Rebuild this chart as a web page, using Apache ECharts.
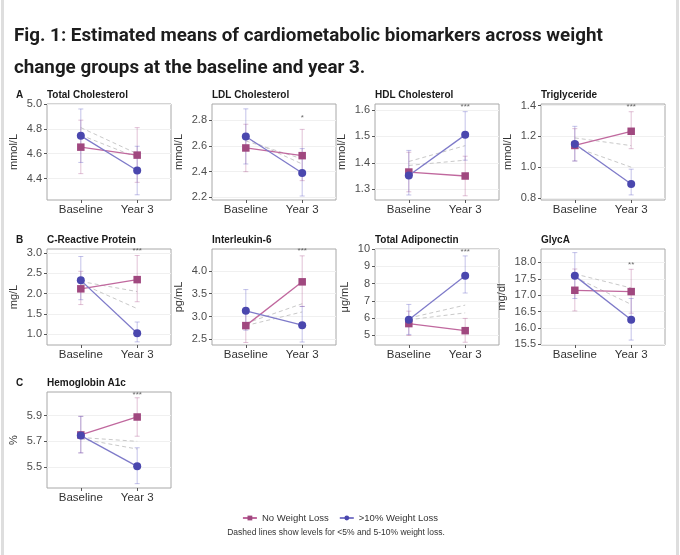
<!DOCTYPE html>
<html>
<head>
<meta charset="utf-8">
<title>Fig. 1</title>
<script src="https://cdn.jsdelivr.net/npm/echarts@6/dist/echarts.min.js"></script>
<style>
    html, body { margin: 0; padding: 0; background: #fff; }
    #chart { position: absolute; left: 0; top: 0; width: 680px; height: 555px; }
    .edge { position: absolute; top: 0; width: 3px; height: 555px; background: #dedede; pointer-events: none; }
</style>
</head>
<body>
<div id="chart"></div>
<div class="edge" style="left:1px"></div>
<div class="edge" style="left:676px"></div>
<script>
// ---- data ----
var groups = ['No Weight Loss', '>10% Weight Loss'];
var timepoints = ['Baseline', 'Year 3'];

var panelTitles = ['Total Cholesterol', 'LDL Cholesterol', 'HDL Cholesterol', 'Triglyceride',
    'C-Reactive Protein', 'Interleukin-6', 'Total Adiponectin', 'GlycA', 'Hemoglobin A1c'];
var panelUnits = ['mmol/L', 'mmol/L', 'mmol/L', 'mmol/L', 'mg/L', 'pg/mL', 'μg/mL', 'mg/dl', '%'];
var panelLetters = ['A', '', '', '', 'B', '', '', '', 'C'];

// estimated means [baseline, year 3]
var noLossMeans = [[4.653, 4.589], [2.585, 2.525], [1.365, 1.350], [1.141, 1.233],
    [2.118, 2.345], [2.80, 3.76], [5.68, 5.27], [17.15, 17.11], [5.750, 5.890]];
var lossMeans = [[4.744, 4.465], [2.675, 2.390], [1.352, 1.506], [1.150, 0.891],
    [2.327, 1.025], [3.125, 2.81], [5.90, 8.45], [17.59, 16.25], [5.745, 5.505]];

// confidence limits [baseline, year 3]
var noLossLower = [[4.44, 4.37], [2.40, 2.33], [1.290, 1.275], [1.04, 1.12],
    [1.73, 1.80], [2.43, 3.22], [4.99, 4.60], [16.52, 16.45], [5.61, 5.74]];
var noLossUpper = [[4.87, 4.81], [2.77, 2.73], [1.440, 1.425], [1.25, 1.36],
    [2.55, 2.94], [3.17, 4.33], [6.40, 5.98], [17.80, 17.79], [5.895, 6.04]];
var lossLower = [[4.53, 4.27], [2.46, 2.21], [1.278, 1.410], [1.04, 0.82],
    [1.85, 0.81], [2.70, 2.44], [5.05, 7.45], [16.90, 15.63], [5.61, 5.37]];
var lossUpper = [[4.96, 4.66], [2.89, 2.58], [1.447, 1.594], [1.265, 0.987],
    [2.915, 1.30], [3.59, 3.22], [6.79, 9.60], [18.30, 16.90], [5.895, 5.65]];

// dashed reference levels [baseline, year 3]
var less5Means = [[4.81, 4.60], [2.66, 2.46], [1.405, 1.465], [1.19, 1.14],
    [2.30, 2.05], [2.85, 3.28], [6.00, 6.75], [17.65, 17.22], [5.73, 5.70]];
var mid5to10Means = [[4.75, 4.57], [2.64, 2.50], [1.390, 1.410], [1.13, 1.00],
    [2.25, 1.63], [2.80, 3.10], [5.90, 6.30], [17.55, 16.72], [5.72, 5.64]];

var stars = ['', '*', '***', '***', '***', '***', '***', '**', '***'];
var starLevel = [null, 2.82, 1.612, 1.395, 3.06, 4.44, 9.84, 17.94, 6.065];

var yMin = [4.228, 2.179, 1.259, 0.787, 0.733, 2.375, 4.44, 15.48, 5.336];
var yMax = [5.0, 2.928, 1.623, 1.41, 3.10, 4.48, 10.0, 18.41, 6.085];
var yTicks = [[4.4, 4.6, 4.8, 5.0], [2.2, 2.4, 2.6, 2.8], [1.3, 1.4, 1.5, 1.6], [0.8, 1.0, 1.2, 1.4],
    [1.0, 1.5, 2.0, 2.5, 3.0], [2.5, 3.0, 3.5, 4.0], [5, 6, 7, 8, 9, 10],
    [15.5, 16.0, 16.5, 17.0, 17.5, 18.0], [5.5, 5.7, 5.9]];
var yDecimals = [1, 1, 1, 1, 1, 1, 0, 1, 1];

// ---- layout & style ----
var colLeft = [47, 212, 375, 541];
var rowTop = [104, 249, 392];
var boxW = 124, boxH = 96;
var font = 'Liberation Sans, Arial, sans-serif';
var pinkDot = '#a0487f', pinkLine = '#c0689e', pinkBar = 'rgba(176,92,148,0.38)';
var blueDot = '#4a47ae', blueLine = '#7e7ac9', blueBar = 'rgba(96,94,196,0.38)';
var dashColor = '#c9c9c9';

var measure = document.createElement('canvas').getContext('2d');
measure.font = '11px ' + font;

function errorBar(color) {
    return function (params, api) {
        var x = api.value(0);
        var lo = api.coord([x, api.value(1)]);
        var hi = api.coord([x, api.value(2)]);
        var w = 2.5;
        var st = { stroke: color, lineWidth: 1 };
        return {
            type: 'group',
            children: [
                { type: 'line', shape: { x1: lo[0], y1: lo[1], x2: hi[0], y2: hi[1] }, style: st },
                { type: 'line', shape: { x1: lo[0] - w, y1: lo[1], x2: lo[0] + w, y2: lo[1] }, style: st },
                { type: 'line', shape: { x1: hi[0] - w, y1: hi[1], x2: hi[0] + w, y2: hi[1] }, style: st }
            ]
        };
    };
}

var titles = [{
    text: 'Fig. 1: Estimated means of cardiometabolic biomarkers across weight\nchange groups at the baseline and year 3.',
    left: 14, top: 20, padding: 0,
    textStyle: { fontSize: 18.8, fontWeight: 'bold', lineHeight: 32, color: '#1d1d1d', fontFamily: 'Roboto, sans-serif' }
}];
var grids = [], xAxes = [], yAxes = [], series = [];

panelTitles.forEach(function (name, i) {
    var r = Math.floor(i / 4), c = i % 4;
    var left = colLeft[c], top = rowTop[r];
    titles.push({
        text: name, left: left, top: top - 14, padding: 0,
        textStyle: { fontSize: 10, fontWeight: 'bold', color: '#1a1a1a', fontFamily: font }
    });
    if (panelLetters[i]) {
        titles.push({
            text: panelLetters[i], left: 16, top: top - 14, padding: 0,
            textStyle: { fontSize: 10, fontWeight: 'bold', color: '#1a1a1a', fontFamily: font }
        });
    }
    grids.push({
        left: left, top: top, width: boxW, height: boxH,
        show: true, borderColor: '#a8a8a8', borderWidth: 1, backgroundColor: '#fff'
    });

    var labelW = 0;
    yTicks[i].forEach(function (t) {
        labelW = Math.max(labelW, measure.measureText(t.toFixed(yDecimals[i])).width);
    });

    xAxes.push({
        type: 'value', gridIndex: i, min: 0.4, max: 2.6,
        axisLine: { show: false },
        axisTick: { show: true, customValues: [1, 2], length: 3, lineStyle: { color: '#555' } },
        axisLabel: {
            customValues: [1, 2], margin: 4, fontSize: 11.5, color: '#333', fontFamily: font,
            formatter: function (v) { return timepoints[Math.round(v) - 1]; }
        },
        splitLine: { show: false }
    });
    yAxes.push({
        type: 'value', gridIndex: i, min: yMin[i], max: yMax[i],
        name: panelUnits[i], nameLocation: 'middle', nameRotate: 90, nameGap: labelW + 12,
        nameTextStyle: { fontSize: 11, color: '#333', fontFamily: font },
        axisLine: { show: false },
        axisTick: { show: true, customValues: yTicks[i], length: 3, lineStyle: { color: '#555' } },
        axisLabel: {
            customValues: yTicks[i], margin: 5, fontSize: 11, color: '#4d4d4d', fontFamily: font,
            formatter: (function (d) { return function (v) { return v.toFixed(d); }; })(yDecimals[i])
        },
        splitLine: { show: true, lineStyle: { color: '#f0f0f0', width: 1 } }
    });

    [less5Means[i], mid5to10Means[i]].forEach(function (lvl) {
        series.push({
            type: 'line', xAxisIndex: i, yAxisIndex: i, silent: true, symbol: 'none',
            data: [[1, lvl[0]], [2, lvl[1]]],
            lineStyle: { type: [4, 3], color: dashColor, width: 1 }, z: 1
        });
    });
    series.push({
        type: 'custom', xAxisIndex: i, yAxisIndex: i, silent: true, z: 2,
        renderItem: errorBar(pinkBar), encode: { x: 0, y: [1, 2] },
        data: [[1, noLossLower[i][0], noLossUpper[i][0]], [2, noLossLower[i][1], noLossUpper[i][1]]]
    });
    series.push({
        type: 'custom', xAxisIndex: i, yAxisIndex: i, silent: true, z: 2,
        renderItem: errorBar(blueBar), encode: { x: 0, y: [1, 2] },
        data: [[1, lossLower[i][0], lossUpper[i][0]], [2, lossLower[i][1], lossUpper[i][1]]]
    });
    series.push({
        name: groups[0], type: 'line', xAxisIndex: i, yAxisIndex: i, z: 3,
        data: [[1, noLossMeans[i][0]], [2, noLossMeans[i][1]]],
        symbol: 'rect', symbolSize: 7.5,
        lineStyle: { color: pinkLine, width: 1.3 },
        itemStyle: { color: pinkDot }
    });
    series.push({
        name: groups[1], type: 'line', xAxisIndex: i, yAxisIndex: i, z: 4,
        data: [[1, lossMeans[i][0]], [2, lossMeans[i][1]]],
        symbol: 'circle', symbolSize: 8,
        lineStyle: { color: blueLine, width: 1.3 },
        itemStyle: { color: blueDot }
    });
    if (stars[i]) {
        series.push({
            type: 'scatter', xAxisIndex: i, yAxisIndex: i, silent: true, z: 5,
            symbolSize: 1, itemStyle: { color: 'rgba(0,0,0,0)' },
            data: [[2, starLevel[i]]],
            label: {
                show: true, position: 'inside', formatter: stars[i],
                fontSize: 8, color: '#444', fontFamily: font
            }
        });
    }
});

var chart = echarts.init(document.getElementById('chart'));
chart.setOption({
    backgroundColor: '#fff',
    animation: false,
    title: titles,
    legend: {
        data: groups, top: 508, left: 'center',
        itemWidth: 14, itemHeight: 6, itemGap: 10,
        textStyle: { fontSize: 9.5, color: '#333', fontFamily: font }
    },
    grid: grids,
    xAxis: xAxes,
    yAxis: yAxes,
    series: series,
    graphic: [{
        type: 'text', x: 336, y: 533,
        style: {
            text: 'Dashed lines show levels for <5% and 5-10% weight loss.',
            textAlign: 'center', textVerticalAlign: 'middle',
            fontSize: 8.5, fill: '#333', fontFamily: font
        }
    }]
});

window.addEventListener('resize', function () {
    chart.resize();
});
</script>
</body>
</html>
